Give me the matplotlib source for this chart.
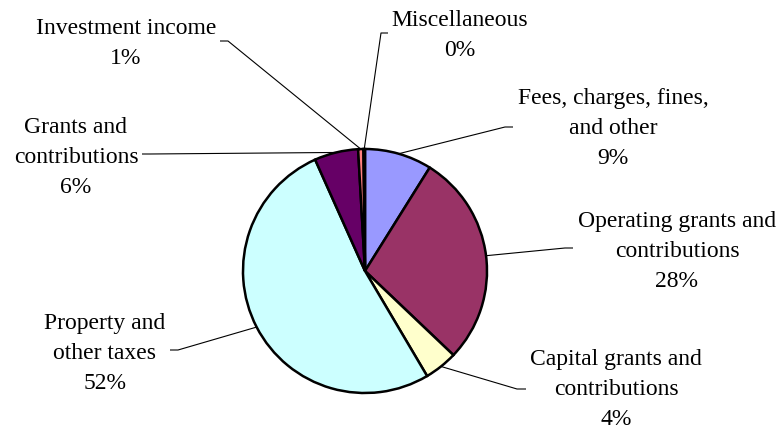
import matplotlib
matplotlib.use('Agg')
import matplotlib.pyplot as plt
import numpy as np

categories = ["Fees, charges, fines,\nand other",
              "Operating grants and\ncontributions",
              "Capital grants and\ncontributions",
              "Property and\nother taxes",
              "Grants and\ncontributions",
              "Investment income",
              "Miscellaneous"]
values = [8.9, 28.2, 4.4, 51.8, 5.8, 0.7, 0.2]
colors = ["#9999FF", "#993366", "#FFFFCC", "#CCFFFF", "#660066", "#FF8080", "#0066CC"]

W, H = 784, 432
fig = plt.figure(figsize=(W / 100, H / 100), dpi=100)
fig.patch.set_facecolor('white')
ax = fig.add_axes([0, 0, 1, 1])
cx, cy, R = 365, 271, 122
wedges, _ = ax.pie(values, colors=colors, startangle=90, counterclock=False,
                   center=(cx, H - cy), radius=R,
                   wedgeprops=dict(edgecolor='black', linewidth=1.8))
ax.set_xlim(0, W)
ax.set_ylim(0, H)
ax.set_aspect('equal')
ax.axis('off')

# layout in pixel coords (y down): text center x, last-line baseline y, anchor x, anchor y, stub dx
label_layout = [
    (613, 164, 513, 127, -8),
    (677, 287, 573, 248, -8),
    (616, 425, 526, 389, -9),
    (105, 389, 170, 350, 8),
    (76, 193, 142, 154, 8),
    (126, 64, 220, 41, 8),
    (460, 56, 388, 33, -7),
]

for w, cat, v, (tx, ty, axp, ayp, dx) in zip(wedges, categories, values, label_layout):
    ang = np.deg2rad((w.theta1 + w.theta2) / 2)
    ex = cx + R * np.cos(ang)
    ey = (H - cy) + R * np.sin(ang)
    ax.plot([ex, axp + dx, axp], [ey, H - ayp, H - ayp], color='black', lw=0.8,
            solid_capstyle='butt')
    ax.text(tx, H - ty, f"{cat}\n{round(v):.0f}%", ha='center', va='baseline',
            multialignment='center', fontsize=17, family='Liberation Serif',
            linespacing=1.57, color='black')

fig.savefig('out.png', dpi=100, facecolor='white')
